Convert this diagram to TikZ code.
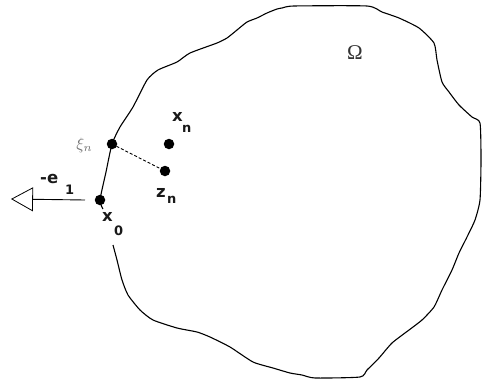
\documentclass[tikz,border=0pt]{standalone}
\usepackage{fontspec}
\newfontfamily\labfont{DejaVu Sans}
\newfontfamily\omfont{Liberation Serif}
\usetikzlibrary{arrows.meta}
\begin{document}
\begin{tikzpicture}[x=1pt,y=-1pt,
  bnd/.style={line width=1.1pt, line join=round},
  dot/.style={circle, fill=black, inner sep=0pt, minimum size=10.5pt},
  lbl/.style={inner sep=0pt, anchor=base west, text=black!90, font=\labfont\bfseries\fontsize{16.5}{16.5}\selectfont},
  sublbl/.style={inner sep=0pt, anchor=base west, text=black!90, font=\labfont\bfseries\fontsize{13}{13}\selectfont},
]
\useasboundingbox (0,0) rectangle (482,380);
% boundary of Omega
\draw[bnd] plot[smooth, tension=0.35] coordinates {
 (103,209) (100,200) (106,172) (112,144) (120,127) (133,107) (147,80) (158,70)
 (177,62) (190,53) (217,43) (227,38) (237,30) (247,22) (257,18) (267,13) (277,9)
 (282,8) (294,6) (367,6) (382,12) (399,18) (419,28) (434,43) (437,60) (442,82)
 (449,92) (459,105) (472,117) (480,123) (481,160) (480,200) (475,220) (467,237)
 (459,253) (452,270) (442,290) (434,307) (422,320) (409,330) (392,343) (379,358)
 (367,370) (360,377) (315,378) (302,375) (290,373) (273,368) (253,362) (230,347)
 (210,337) (197,332) (177,328) (153,320) (140,310) (128,295) (122,280) (117,260)
 (113,245)};
% points
\node[dot] (x0) at (100,200) {};
\node[dot] (xi) at (112,144) {};
\node[dot] (xn) at (169,144) {};
\node[dot] (zn) at (165,171) {};
\draw[line width=0.9pt, dash pattern=on 3pt off 2pt] (xi.center) -- (zn.center);
% arrow -e_1
\coordinate (astart) at (85,200);
\coordinate (atip) at (11,199);
\draw[line width=0.9pt, -{Triangle[open, length=22pt, width=24pt, line width=0.8pt]}] (astart) -- (atip);
% labels
\node[lbl] (mel) at (40,183.5) {-e};
\node[sublbl] (onel) at (65,194.5) {1};
\node[lbl] (x0l) at (102,221.5) {x};
\node[sublbl] (x0s) at (114,235.5) {0};
\node[lbl] (xnl) at (172,121.5) {x};
\node[sublbl] (xns) at (182,132.5) {n};
\node[lbl] (znl) at (156,197.5) {z};
\node[sublbl] (zns) at (167,203.5) {n};
\node[inner sep=0pt, anchor=base west, text=black!55, scale=1.65] (xil) at (76,149) {$\xi_n$};
\node[inner sep=0pt, anchor=base west, text=black!80, font=\omfont\fontsize{21}{21}\selectfont] (oml) at (347,59) {Ω};
\end{tikzpicture}
\end{document}
